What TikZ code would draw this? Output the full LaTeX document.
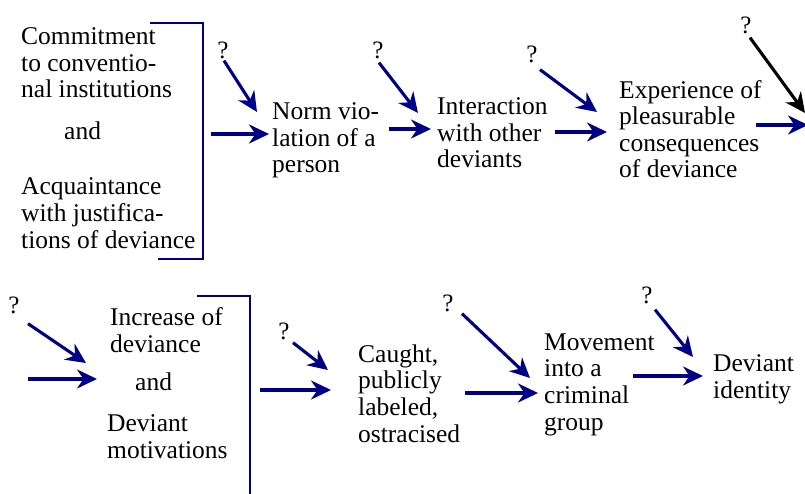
\documentclass[tikz,border=0pt]{standalone}
\usepackage{fontspec}
\setmainfont{Liberation Serif}
\usetikzlibrary{arrows.meta}
\definecolor{navy}{RGB}{0,0,135}
\tikzset{
  % multi-line text blocks are placed by the baseline of their last line
  txt/.style={anchor=base west, inner sep=0pt, align=left,
    font=\fontsize{25.5}{26.6}\selectfont},
  qm/.style={inner sep=0pt, font=\fontsize{25}{26.5}\selectfont},
  arr/.style={draw=navy, line width=3.1pt,
    -{Stealth[length=20pt,width=19pt,inset=6.5pt]}},
  blackarr/.style={arr, draw=black},
  bracket/.style={draw=navy, line width=2.3pt}
}
\begin{document}
\begin{tikzpicture}[x=1pt,y=-1pt]
\useasboundingbox (0,0) rectangle (805,494);

% ---------- upper row ----------
\node[txt] (commit) at (21,98) {Commitment\\to conventio-\\nal institutions};
\node[txt] (and1) at (64,140) {and};
\node[txt] (acq) at (21,248) {Acquaintance\\with justifica-\\tions of deviance};
\draw[bracket] (150,23) -- (203,23) -- (203,259) -- (158,259);

\node[txt] (norm) at (272,173) {Norm vio-\\lation of a\\person};
\node[txt] (inter) at (437,168) {Interaction\\with other\\deviants};
\node[txt] (exper) at (619,178) {Experience of\\pleasurable\\consequences\\of deviance};

\node[qm] (q1) at (223,50) {?};
\node[qm] (q2) at (378,50) {?};
\node[qm] (q3) at (532,54) {?};
\node[qm] (q4) at (746,25) {?};

\coordinate (b1out) at (211,134);
\coordinate (norm in) at (269,134);
\coordinate (norm q) at (257,112);
\coordinate (norm out) at (389,129);
\coordinate (inter in) at (431,129);
\coordinate (inter q) at (418,113);
\coordinate (inter out) at (555,132);
\coordinate (exper in) at (607,132);
\coordinate (exper q) at (597,112);
\coordinate (exper out) at (756,125);
\coordinate (next in) at (808,125);
\coordinate (next q) at (805,113);

\draw[arr] (b1out) -- (norm in);
\draw[arr] (q1.south) ++(1,2) -- (norm q);
\draw[arr] (norm out) -- (inter in);
\draw[arr] (q2.south) ++(1,4) -- (inter q);
\draw[arr] (inter out) -- (exper in);
\draw[arr] (q3.south) ++(8,7) -- (exper q);
\draw[arr] (exper out) -- (next in);
\draw[blackarr] (q4.south) ++(4,4) -- (next q);

% ---------- lower row ----------
\node[qm] (q5) at (14,305) {?};
\coordinate (incr q) at (86,363);
\coordinate (start) at (28,379);
\coordinate (incr in) at (97,379);
\draw[arr] (q5.south) ++(14,10) -- (incr q);
\draw[arr] (start) -- (incr in);

\node[txt] (incr) at (110,352) {Increase of\\deviance};
\node[txt] (and2) at (135,390) {and};
\node[txt] (motiv) at (107,458) {Deviant\\motivations};
\draw[bracket] (197,296) -- (250,296) -- (250,494);

\node[qm] (q6) at (284,331) {?};
\node[qm] (q7) at (448,303) {?};
\node[qm] (q8) at (647,295) {?};

\node[txt] (caught) at (358,442) {Caught,\\publicly\\labeled,\\ostracised};
\node[txt] (move) at (544,430) {Movement\\into a\\criminal\\group};
\node[txt] (ident) at (713,398) {Deviant\\identity};

\coordinate (b2out) at (260,390);
\coordinate (caught in) at (331,390);
\coordinate (caught q) at (328,370);
\coordinate (caught out) at (465,393);
\coordinate (move in) at (538,393);
\coordinate (move q) at (530,378);
\coordinate (move out) at (633,376);
\coordinate (ident in) at (703,376);
\coordinate (ident q) at (693,357);

\draw[arr] (b2out) -- (caught in);
\draw[arr] (q6.south) ++(9,3) -- (caught q);
\draw[arr] (caught out) -- (move in);
\draw[arr] (q7.south) ++(14,2) -- (move q);
\draw[arr] (move out) -- (ident in);
\draw[arr] (q8.south) ++(8,6) -- (ident q);
\end{tikzpicture}
\end{document}
